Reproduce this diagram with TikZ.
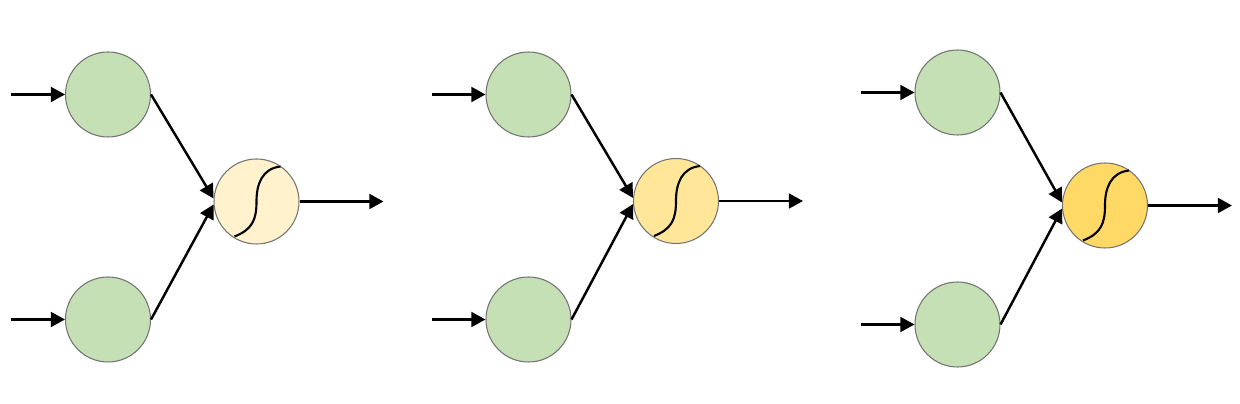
\documentclass[tikz,border=0pt]{standalone}
\usepackage{xcolor}
\usepackage{tikz}
\usetikzlibrary{positioning, calc, arrows.meta}
\definecolor{ingreen}{HTML}{C5E0B4}
\definecolor{outA}{HTML}{FFF2CC}
\definecolor{outB}{HTML}{FFE699}
\definecolor{outC}{HTML}{FFD966}

\begin{document}
\begin{tikzpicture}[x=1cm, y=1cm,
	neuron/.style={circle, draw=black!55, line width=0.3pt, minimum size=0.85cm, inner sep=0pt},
	conn/.style={line width=0.7pt, -{Triangle[length=4pt, width=4.2pt]}}]
			\useasboundingbox (0,0) rectangle (12.4,4.04);
			
			%% one little net per triple: x of inputs, y top, y bottom, x/y of output, fill
			\foreach \g/\xi/\yt/\yb/\xo/\yo/\col in {1/1.08/3.095/0.845/2.565/2.025/outA, 2/5.285/3.095/0.845/6.76/2.03/outB, 3/9.575/3.115/0.795/11.05/1.985/outC} {
				\node[neuron, fill=ingreen] (top\g) at (\xi,\yt) {};
				\node[neuron, fill=ingreen] (bot\g) at (\xi,\yb) {};
				\node[neuron, fill=\col] (out\g) at (\xo,\yo) {};
				
				\coordinate[left=0.97cm of top\g.center] (tin\g);
				\coordinate[left=0.97cm of bot\g.center] (bin\g);
				\coordinate[right=1.27cm of out\g.center] (oend\g);
				
				\draw[conn] (tin\g) -- (top\g.west);
				\draw[conn] (bin\g) -- (bot\g.west);
				\draw[conn] (top\g.east) -- (out\g.176);
				\draw[conn] (bot\g.east) -- (out\g.184);
				\draw[conn] (out\g.east) -- (oend\g);
				
				%% sigmoid inside the output neuron
				\draw[line width=0.6pt] ($(out\g)+(-0.22,-0.35)$) .. controls ($(out\g)+(-0.04,-0.28)$) and ($(out\g)+(0,-0.18)$) .. ($(out\g)+(0,0)$) .. controls ($(out\g)+(0,0.18)$) and ($(out\g)+(0.06,0.33)$) .. ($(out\g)+(0.24,0.35)$);
			}
			
			\end{tikzpicture}
\end{document}
